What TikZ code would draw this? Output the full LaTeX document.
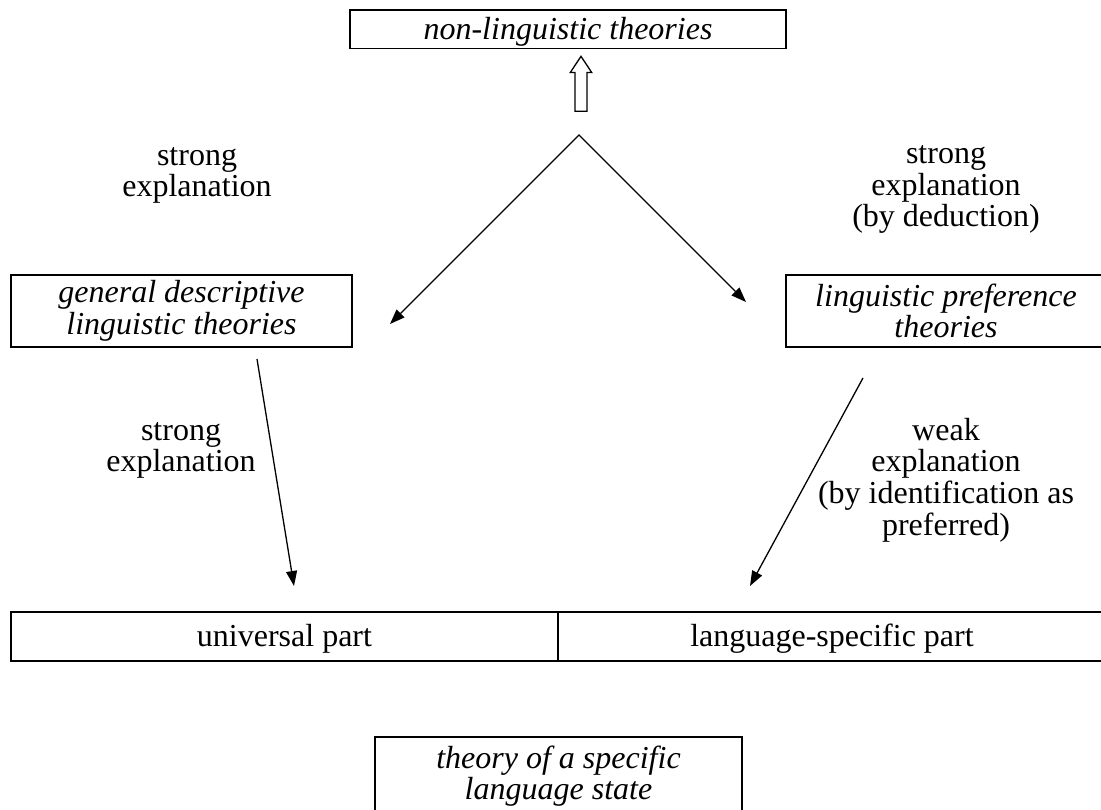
\documentclass[tikz,border=0pt]{standalone}
\usepackage{fontspec}
\setmainfont{Liberation Serif}
\usetikzlibrary{arrows.meta,shapes.arrows}

\begin{document}
\begin{tikzpicture}[x=1pt,y=1pt,
  box/.style={draw,line width=1.4pt,inner sep=0pt,outer sep=0pt,align=center,font=\fontsize{32}{31.7}\selectfont\itshape},
  part/.style={box,font=\fontsize{32}{31.7}\selectfont},
  lbl/.style={inner sep=0pt,align=center,font=\fontsize{32}{31.7}\selectfont},
  arr/.style={line width=1.3pt,>={Triangle[length=15pt,width=11pt]},->},
  hollow/.style={draw,single arrow,rotate=90,line width=1.3pt,inner sep=5.3pt,minimum height=55pt,single arrow head extend=4.7pt,single arrow tip angle=67}]
\useasboundingbox (0,0) rectangle (1101,810);
\clip (0,0) rectangle (1101,810);

% top of the scheme
\node[box,minimum width=436pt,minimum height=38.7pt,text height=25pt,text depth=4pt] (nonling) at (568,780.6) {non-linguistic theories};
\node[hollow,anchor=tail] (up) at (581,698) {};

\coordinate (apex) at (579,675);
\coordinate (ltip) at (390,486);
\coordinate (rtip) at (746,508);
\draw[arr,<->,line join=miter] (ltip) -- (apex) -- (rtip);

\node[lbl] (tl) at (197,634.5) {strong\\explanation};
\node[lbl] (tr) at (946,620.5) {strong\\explanation\\(by deduction)};

% middle row
\node[box,minimum width=341pt,minimum height=72pt] (gdlt) at (181.5,499) {general descriptive\\linguistic theories};
\node[box,minimum width=320pt,minimum height=72pt] (lpt) at (946,499) {linguistic preference\\theories};

\coordinate (ls) at (257,451);
\coordinate (le) at (294,224);
\draw[arr] (ls) -- (le);
\node[lbl] (bl) at (181,359.5) {strong\\explanation};

\coordinate (rs) at (863,432);
\coordinate (re) at (750,224);
\draw[arr] (rs) -- (re);
\node[lbl] (br) at (946,330) {weak\\explanation\\(by identification as\\preferred)};

% bottom
\node[part,minimum width=547pt,minimum height=49pt,text height=25pt,text depth=4pt] (univ) at (284.5,173.5) {universal part};
\node[part,minimum width=548pt,minimum height=49pt,text height=25pt,text depth=4pt,anchor=west] (lsp) at (univ.east) {language-specific part};

\node[box,minimum width=367pt,minimum height=78pt] (state) at (558.5,34) {theory of a specific\\language state};
\end{tikzpicture}
\end{document}
